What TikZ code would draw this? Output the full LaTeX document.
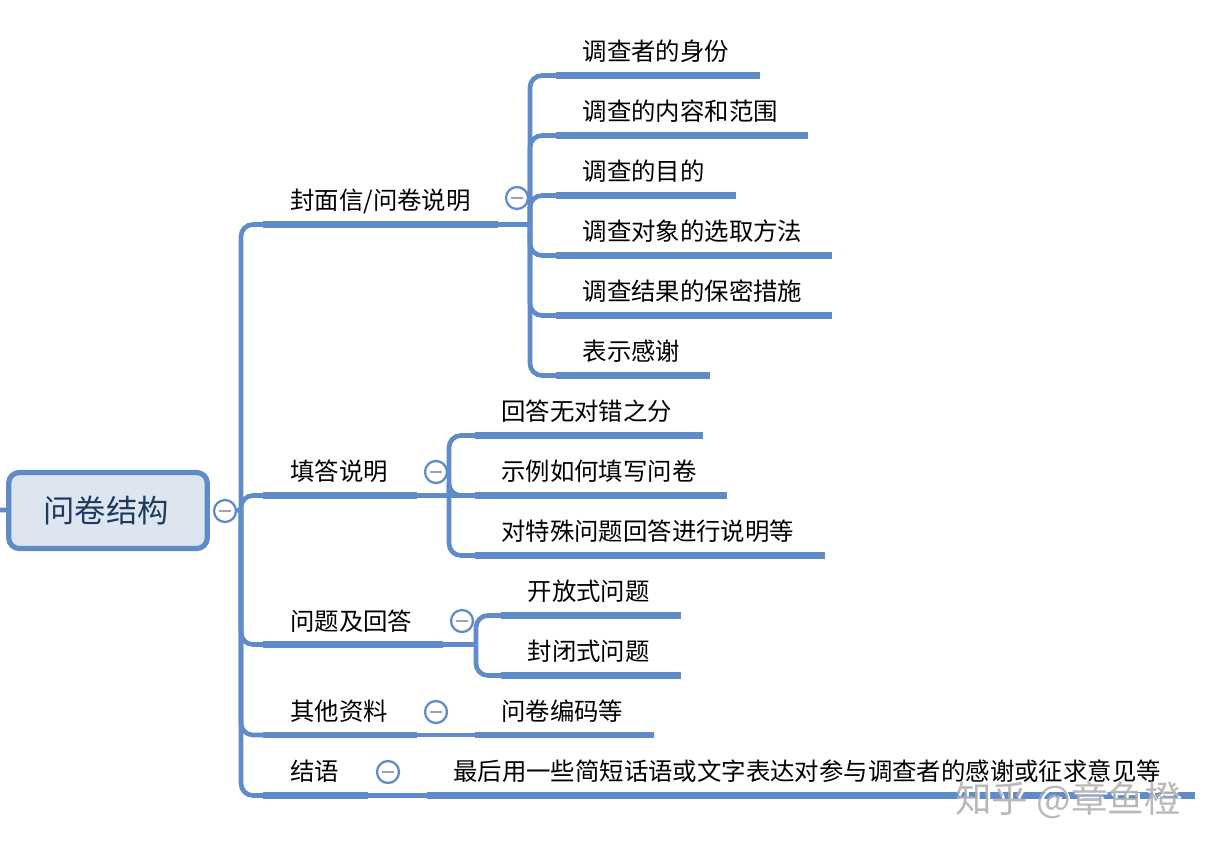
\documentclass[tikz,border=0pt]{standalone}
\usepackage{fontspec}
\setmainfont{Noto Sans CJK SC}
\definecolor{barblue}{HTML}{5F8CC9}
\definecolor{rootfill}{HTML}{DDE5F1}
\definecolor{rootink}{HTML}{1E3A5F}
\definecolor{dashgrey}{HTML}{A0A0B4}
\tikzset{
    txt/.style={anchor=west, inner sep=0pt, font=\fontsize{18.3}{18}\selectfont},
    root/.style={draw=barblue, line width=3.9pt, fill=rootfill, rounded corners=8pt, text=rootink,
        minimum width=149pt, minimum height=57pt, inner sep=0pt, font=\fontsize{23.5}{24}\selectfont},
    fold/.style={circle, draw=barblue, line width=1.7pt, fill=white, minimum size=16.5pt, inner sep=0pt,
        path picture={\draw[dashgrey, line width=1.6pt] (path picture bounding box.center) +(-4.5pt,0) -- +(4.5pt,0);}},
    link/.style={draw=barblue, line width=3.5pt, rounded corners=9pt},
    bar/.style={draw=barblue, line width=5.2pt, yshift=-0.75pt},
}
\begin{document}
\begin{tikzpicture}[x=0.75pt,y=-0.75pt]
    \useasboundingbox (0,0) rectangle (1210,848);

    % root
    \coordinate (stub) at (0,510);
    \coordinate (trunk) at (241,510);
    \node[root] (main) at (108,510.5) {\kern-3pt 问卷结构};
    \node[fold] (mainfold) at (225,511) {};

    % first level
    \node[txt] (cover) at (290,201.5) {封面信/问卷说明};
    \node[txt] (guide) at (290,471) {填答说明};
    \node[txt] (ques) at (290,621) {问题及回答};
    \node[txt] (other) at (290,711) {其他资料};
    \node[txt] (end) at (290,771) {结语};

    \coordinate (coverl) at (263,224.5); \coordinate (coverr) at (498,224.5); \coordinate (coverhub) at (530,224.5);
    \coordinate (guidel) at (263,495.5); \coordinate (guider) at (417,495.5); \coordinate (guidehub) at (449,495.5);
    \coordinate (quesl) at (263,644.5); \coordinate (quesr) at (443,644.5); \coordinate (queshub) at (476,644.5);
    \coordinate (otherl) at (263,735); \coordinate (otherr) at (417,735);
    \coordinate (endl) at (263,795.5); \coordinate (endr) at (368,795.5);

    % second level
    \node[txt] (a1) at (582.5,51) {调查者的身份};
    \node[txt] (a2) at (582.5,111) {调查的内容和范围};
    \node[txt] (a3) at (582.5,171) {调查的目的};
    \node[txt] (a4) at (582.5,231) {调查对象的选取方法};
    \node[txt] (a5) at (582.5,291) {调查结果的保密措施};
    \node[txt] (a6) at (582.5,351) {表示感谢};
    \node[txt] (b1) at (501,411) {回答无对错之分};
    \node[txt] (b2) at (501,471) {示例如何填写问卷};
    \node[txt] (b3) at (501,531) {对特殊问题回答进行说明等};
    \node[txt] (c1) at (527.5,591) {开放式问题};
    \node[txt] (c2) at (527.5,651) {封闭式问题};
    \node[txt] (d1) at (501,711) {问卷编码等};
    \node[txt] (e1) at (453,771) {最后用一些简短话语或文字表达对参与调查者的感谢或征求意见等};

    \coordinate (a1l) at (556,75.5); \coordinate (a1r) at (760,75.5);
    \coordinate (a2l) at (556,135.5); \coordinate (a2r) at (808,135.5);
    \coordinate (a3l) at (556,195.5); \coordinate (a3r) at (736,195.5);
    \coordinate (a4l) at (556,255.5); \coordinate (a4r) at (832,255.5);
    \coordinate (a5l) at (556,315.5); \coordinate (a5r) at (832,315.5);
    \coordinate (a6l) at (556,375.5); \coordinate (a6r) at (710,375.5);
    \coordinate (b1l) at (475,435.5); \coordinate (b1r) at (703,435.5);
    \coordinate (b2l) at (475,495.5); \coordinate (b2r) at (727,495.5);
    \coordinate (b3l) at (475,555.5); \coordinate (b3r) at (825,555.5);
    \coordinate (c1l) at (501,615.5); \coordinate (c1r) at (681,615.5);
    \coordinate (c2l) at (501,675.5); \coordinate (c2r) at (681,675.5);
    \coordinate (d1l) at (475,735); \coordinate (d1r) at (654,735);
    \coordinate (e1l) at (427,795.5); \coordinate (e1r) at (1195,795.5);

    % connectors
    \draw[link] (stub) -- (main);
    \draw[link] (mainfold) -- (trunk);
    \foreach \n in {cover,guide,ques,other,end}
        \draw[link] (trunk) |- (\n l);
    \foreach \n in {a1,a2,a3,a4,a5,a6}
        \draw[link] (coverhub) |- (\n l);
    \foreach \n in {b1,b2,b3}
        \draw[link] (guidehub) |- (\n l);
    \foreach \n in {c1,c2}
        \draw[link] (queshub) |- (\n l);
    \draw[link] (coverr) -- (coverhub);
    \draw[link] (guider) -- (b2l);
    \draw[link] (quesr) -- (queshub);
    \draw[link] (otherr) -- (d1l);
    \draw[link] (endr) -- (e1l);

    % underlines
    \foreach \n in {cover,guide,ques,other,end,a1,a2,a3,a4,a5,a6,b1,b2,b3,c1,c2,d1,e1}
        \draw[bar] (\n l) -- (\n r);

    % fold marks
    \node[fold] (coverfold) at (517,198) {};
    \node[fold] (guidefold) at (436,472) {};
    \node[fold] (quesfold) at (462,621) {};
    \node[fold] (otherfold) at (436,712) {};
    \node[fold] (endfold) at (388,772) {};

    % watermark
    \node[anchor=west, inner sep=0pt, text=white, font=\fontsize{27.4}{27}\selectfont] (markb) at (957,802) {知乎 @章鱼橙};
    \node[anchor=west, inner sep=0pt, text=black!32, opacity=0.85, font=\fontsize{27.4}{27}\selectfont] (mark) at (955,800) {知乎 @章鱼橙};
\end{tikzpicture}
\end{document}
